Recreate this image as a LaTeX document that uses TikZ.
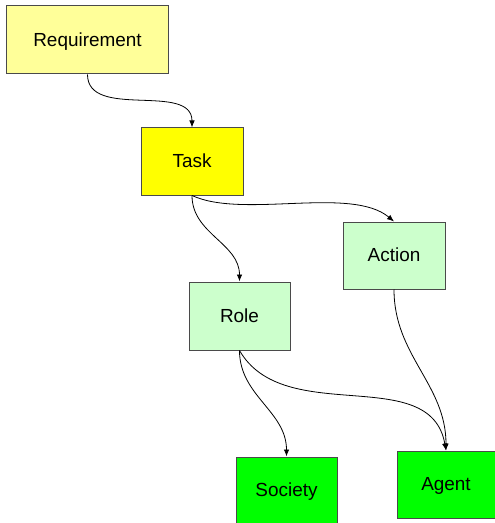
\documentclass[tikz,border=0pt]{standalone}
\usepackage{fontspec}
\setmainfont{Liberation Sans}
\usetikzlibrary{arrows.meta}
\definecolor{amarillo}{HTML}{FFFF99}
\definecolor{amarillofuerte}{HTML}{FFFF00}
\definecolor{verdeclaro}{HTML}{CCFFCC}
\definecolor{verde}{HTML}{00FF00}
\definecolor{borde}{HTML}{4A4A4A}
\begin{document}
\begin{tikzpicture}[x=1bp,y=-1bp,
		caja/.style={draw=borde,line width=1bp,inner sep=0pt,text depth=1bp,font=\fontsize{19}{22}\selectfont},
		flecha/.style={->,>={Latex[length=7bp,width=5.5bp]},line width=0.8bp}]
			\useasboundingbox (0,0) rectangle (495,523);
			% cajas
			\node[caja,fill=amarillo,minimum width=161bp,minimum height=68bp] (req) at (87.5,40) {Requirement};
			\node[caja,fill=amarillofuerte,minimum width=102bp,minimum height=67bp] (task) at (192,161.5) {Task};
			\node[caja,fill=verdeclaro,minimum width=102bp,minimum height=67bp] (action) at (394,255.5) {Action};
			\node[caja,fill=verdeclaro,minimum width=101bp,minimum height=68bp] (role) at (239.5,316) {Role};
			\node[caja,fill=verde,minimum width=101bp,minimum height=66bp] (society) at (286.5,490) {Society};
			\node[caja,fill=verde,minimum width=98bp,minimum height=67bp] (agent) at (446,484.5) {Agent};

			% conexiones
			\begin{scope}[flecha]
			\draw (req.south) to[out=-90,in=90] (task.north);
			\draw (task.south) to[out=-90,in=90] (role.north);
			\draw (task.south) to[out=-25,in=140,looseness=0.7] (action.north);
			\draw (role.south) to[out=-90,in=90] (society.north);
			\draw (role.south) to[out=-60,in=100] (agent.north);
			\draw (action.south) to[out=-90,in=90] (agent.north);
			\end{scope}
		    \end{tikzpicture}
\end{document}
